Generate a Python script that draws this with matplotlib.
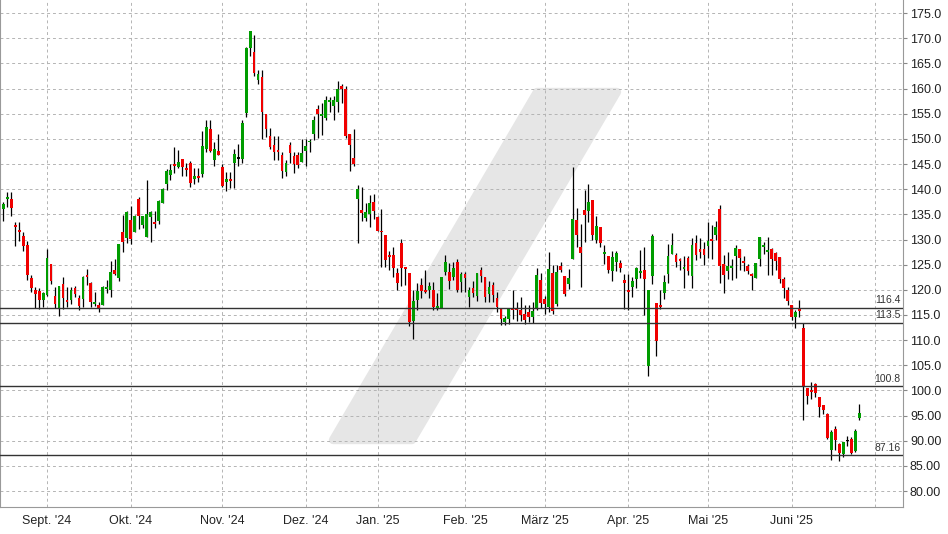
import numpy as np
import pandas as pd
import matplotlib
matplotlib.use('Agg')
import matplotlib.pyplot as plt
from matplotlib.patches import Polygon

# trading days (Xetra), Aug 16 2024 .. Jun 25 2025
holidays = ['2024-12-24', '2024-12-25', '2024-12-26', '2024-12-31',
            '2025-01-01', '2025-04-18', '2025-04-21', '2025-05-01']
days = pd.bdate_range('2024-08-16', '2025-07-01')
days = days[~days.isin(pd.to_datetime(holidays))]

opens = [136.1, 138.1, 138.1, 132.9, 131.9, 130.7, 128.9, 122.3, 119.9, 119.7,
         118.0, 119.0, 125.1, 118.8, 116.3, 121.2, 117.9, 117.9, 120.4, 118.4,
         118.1, 122.9, 121.4, 117.1, 116.9, 117.0, 120.1, 119.9, 123.9, 122.3,
         131.4, 130.3, 133.9, 131.5, 138.1, 132.9, 130.5, 134.5, 133.5, 133.6,
         137.2, 141.1, 142.9, 145.0, 144.5, 146.0, 144.3, 145.2, 142.1, 142.7,
         143.0, 148.0, 152.0, 145.8, 147.6, 144.5, 141.5, 142.1, 145.3, 146.2,
         146.0, 155.1, 168.0, 167.2, 161.7, 162.3, 155.0, 150.5, 148.8, 147.8,
         146.8, 143.5, 148.8, 146.6, 146.8, 145.5, 147.5, 149.3, 151.0, 155.9,
         154.6, 154.2, 157.4, 156.6, 157.4, 160.6, 159.9, 150.9, 146.2, 138.0,
         135.8, 134.3, 135.1, 137.4, 134.4, 131.7, 130.9, 126.9, 126.9, 123.3,
         129.4, 124.6, 123.4, 113.9, 118.0, 120.9, 119.9, 119.9, 119.9, 116.3,
         116.3, 123.6, 123.6, 122.6, 125.6, 121.6, 123.1, 118.6, 120.4, 118.8,
         124.0, 122.6, 119.2, 121.0, 118.3, 116.3, 113.6, 114.3, 116.3, 116.3,
         115.9, 115.2, 115.5, 114.6, 116.3, 121.9, 118.1, 116.5, 123.3, 117.2,
         124.7, 122.8, 121.2, 126.1, 133.9, 128.6, 135.9, 135.6, 137.9, 129.9,
         132.4, 127.1, 126.7, 123.8, 125.6, 125.4, 122.0, 119.9, 120.6, 122.1,
         123.3, 124.0, 104.9, 122.8, 117.3, 117.0, 119.4, 123.1, 127.1, 126.9,
         126.1, 124.2, 126.4, 122.8, 129.4, 128.1, 128.1, 128.7, 130.1, 130.9,
         136.0, 125.2, 123.8, 124.4, 126.7, 128.2, 125.7, 124.7, 123.2, 122.3,
         126.2, 128.5, 127.5, 128.2, 127.3, 126.6, 122.1, 120.0, 117.0, 114.6,
         116.2, 112.5, 100.5, 100.0, 101.3, 98.8, 97.2, 95.4, 88.2, 92.3,
         89.3, 87.4, 90.0, 90.4, 87.9, 94.6]
highs = [137.5, 139.4, 139.4, 133.5, 133.5, 131.5, 129.7, 122.9, 120.5, 120.4,
         119.5, 128.1, 125.1, 120.5, 120.8, 122.5, 120.5, 120.5, 120.7, 118.9,
         122.7, 124.1, 121.5, 119.5, 117.5, 120.7, 121.9, 125.7, 126.2, 129.1,
         134.9, 135.7, 136.7, 134.9, 138.5, 134.7, 141.9, 135.7, 135.7, 137.9,
         140.3, 144.0, 145.0, 148.3, 147.8, 146.0, 145.2, 145.7, 144.2, 144.2,
         151.6, 153.8, 153.8, 149.3, 150.9, 145.0, 143.4, 143.4, 148.0, 149.0,
         153.8, 168.3, 171.5, 170.7, 163.6, 163.6, 155.0, 152.1, 150.6, 150.5,
         147.3, 145.9, 149.3, 147.3, 147.3, 150.0, 150.0, 150.0, 154.6, 156.7,
         157.2, 158.5, 158.4, 158.5, 161.5, 160.9, 160.6, 150.9, 151.9, 140.9,
         140.5, 137.3, 138.8, 139.0, 134.6, 136.0, 130.9, 127.7, 128.6, 124.4,
         130.2, 124.6, 123.4, 120.0, 121.3, 122.3, 123.9, 121.6, 121.6, 119.3,
         122.6, 126.9, 125.3, 125.6, 126.1, 123.6, 123.6, 120.5, 121.8, 123.4,
         124.6, 122.6, 121.8, 121.6, 119.6, 116.3, 114.8, 116.3, 119.9, 117.6,
         118.6, 117.0, 117.0, 117.6, 124.3, 123.3, 118.8, 127.5, 124.9, 124.9,
         125.6, 122.8, 124.1, 144.5, 136.2, 133.0, 139.9, 141.0, 137.9, 134.6,
         132.4, 129.0, 126.7, 127.7, 127.7, 125.9, 123.1, 123.2, 122.5, 124.6,
         127.9, 128.6, 119.9, 131.0, 117.3, 120.0, 122.9, 129.1, 131.3, 127.4,
         126.4, 126.7, 126.7, 130.3, 130.8, 130.3, 129.5, 133.5, 132.9, 133.7,
         136.8, 127.0, 127.6, 126.1, 129.0, 128.2, 126.7, 125.1, 123.4, 125.4,
         130.5, 129.5, 130.5, 128.3, 127.6, 126.6, 122.6, 120.6, 117.0, 116.0,
         117.9, 113.4, 100.5, 101.6, 101.4, 98.8, 97.2, 95.6, 92.2, 92.9,
         89.6, 89.8, 91.0, 90.8, 92.3, 97.4]
lows = [133.7, 136.5, 134.7, 128.7, 129.7, 127.7, 122.0, 119.5, 116.4, 116.2,
        116.5, 118.8, 121.2, 116.4, 114.9, 116.2, 116.5, 117.2, 118.5, 115.9,
        116.5, 120.9, 116.5, 116.7, 115.5, 117.0, 119.3, 118.5, 122.9, 121.7,
        127.5, 129.3, 129.2, 131.4, 132.0, 132.2, 130.5, 129.5, 132.2, 133.1,
        137.2, 139.9, 141.9, 143.3, 144.2, 142.6, 142.6, 140.5, 141.0, 141.5,
        142.4, 147.4, 147.4, 144.7, 146.7, 140.5, 139.7, 140.2, 140.2, 144.7,
        145.3, 154.4, 166.4, 162.4, 161.0, 149.9, 150.3, 148.0, 145.9, 145.9,
        142.3, 142.7, 145.3, 143.3, 144.3, 145.5, 144.7, 147.4, 149.7, 150.1,
        150.8, 153.8, 155.4, 153.8, 155.4, 157.2, 150.1, 143.7, 144.7, 129.4,
        133.6, 133.6, 132.4, 134.1, 131.7, 124.6, 124.6, 124.0, 122.6, 120.0,
        120.8, 120.9, 112.9, 110.3, 115.9, 118.3, 119.3, 118.3, 115.9, 116.0,
        116.3, 122.9, 120.1, 121.9, 119.6, 119.6, 119.6, 116.6, 118.6, 117.8,
        121.6, 117.6, 117.6, 117.6, 115.5, 113.0, 113.0, 113.3, 114.3, 113.9,
        113.9, 113.3, 113.6, 113.5, 116.0, 116.3, 115.2, 115.5, 115.2, 116.7,
        123.6, 118.7, 120.2, 126.1, 128.6, 120.5, 129.6, 133.5, 130.0, 129.3,
        128.6, 125.1, 123.4, 121.8, 123.8, 123.6, 116.1, 116.0, 118.5, 120.3,
        122.3, 115.0, 102.9, 121.1, 106.9, 116.1, 118.2, 121.3, 127.1, 124.6,
        123.9, 120.4, 122.9, 120.4, 125.9, 126.4, 125.0, 126.3, 126.2, 129.9,
        121.4, 119.4, 122.1, 121.9, 122.4, 124.0, 123.7, 123.1, 120.0, 122.3,
        124.8, 127.2, 123.0, 123.0, 124.0, 121.4, 118.4, 117.0, 114.1, 112.4,
        114.7, 94.2, 97.4, 98.4, 98.8, 94.8, 95.4, 90.3, 86.2, 88.2,
        86.0, 86.8, 89.0, 87.3, 87.7, 94.2]
closes = [137.1, 138.5, 136.3, 132.5, 131.5, 128.7, 122.9, 120.3, 119.2, 118.0,
          119.3, 126.3, 121.7, 117.1, 120.8, 118.4, 117.5, 119.9, 119.1, 116.7,
          122.5, 122.5, 117.5, 117.5, 116.3, 120.5, 120.5, 123.5, 123.1, 129.1,
          129.5, 135.5, 130.1, 134.7, 134.7, 134.7, 135.1, 135.5, 133.1, 137.7,
          140.1, 143.7, 143.8, 144.6, 145.5, 144.4, 143.8, 141.2, 142.6, 142.3,
          148.5, 152.3, 147.5, 148.0, 146.7, 140.7, 142.1, 141.7, 147.0, 146.2,
          153.2, 168.0, 171.5, 163.0, 162.9, 155.4, 152.0, 148.3, 147.3, 147.4,
          143.6, 145.2, 147.2, 145.0, 144.8, 147.2, 148.5, 149.6, 153.8, 155.0,
          155.0, 157.8, 157.7, 157.7, 159.9, 160.0, 150.6, 148.8, 145.0, 140.0,
          135.3, 135.5, 137.3, 135.7, 131.7, 131.4, 125.9, 126.6, 124.3, 121.3,
          124.4, 124.2, 113.6, 117.8, 119.8, 119.7, 119.6, 120.8, 116.6, 116.7,
          122.6, 125.6, 121.8, 124.4, 119.9, 123.1, 122.3, 119.9, 119.4, 123.3,
          122.8, 118.5, 120.6, 119.0, 116.6, 114.2, 114.5, 116.3, 116.0, 115.9,
          115.0, 114.1, 114.7, 115.7, 122.9, 117.3, 117.1, 124.1, 115.8, 123.5,
          123.9, 119.2, 122.3, 134.1, 130.9, 127.4, 134.9, 137.4, 130.9, 132.7,
          129.3, 127.5, 123.9, 126.5, 127.3, 124.3, 121.3, 119.6, 121.8, 124.4,
          123.7, 122.1, 119.9, 130.6, 109.8, 116.5, 121.6, 126.7, 128.9, 125.6,
          125.8, 124.6, 123.8, 128.9, 126.9, 127.5, 126.9, 129.8, 129.7, 132.5,
          124.8, 123.0, 124.7, 124.7, 128.3, 126.3, 125.4, 123.7, 122.7, 125.4,
          130.5, 128.9, 127.9, 126.2, 125.8, 122.1, 120.4, 117.7, 114.7, 115.5,
          115.7, 100.8, 99.0, 99.7, 99.4, 96.8, 96.2, 90.6, 91.7, 90.1,
          87.6, 89.8, 90.0, 87.5, 91.9, 95.6]

month_labels = ["Sept. '24", "Okt. '24", "Nov. '24", "Dez. '24", "Jan. '25",
                "Feb. '25", "März '25", "Apr. '25", "Mai '25", "Juni '25", ""]

levels = [116.4, 113.5, 100.8, 87.16]
level_labels = ['116.4', '113.5', '100.8', '87.16']

plt.rcParams['font.family'] = ['Liberation Sans', 'DejaVu Sans']

o = np.array(opens)
h = np.array(highs)
l = np.array(lows)
c = np.array(closes)
x = np.arange(len(o))

# first trading day of each month
month_pos = [i for i in range(1, len(days)) if days[i].month != days[i - 1].month]

fig = plt.figure(figsize=(9.48, 5.34), dpi=100)
ax = fig.add_axes([0.0, 0.0511, 0.9525, 0.9489])

# watermark slash
wm = Polygon([(333 / 948, 1 - 440 / 534), (412 / 948, 1 - 440 / 534),
              (617 / 948, 1 - 92 / 534), (537 / 948, 1 - 92 / 534)],
             closed=True, transform=fig.transFigure, facecolor='#e6e6e6',
             edgecolor='#e6e6e6', linewidth=6, joinstyle='round', zorder=0.1)
ax.add_patch(wm)

up = c > o
down = c < o
flat = c == o
body_lo = np.minimum(o, c)
body_h = np.maximum(np.abs(c - o), 0.25)

ax.vlines(x, l, h, color='black', linewidth=0.9, zorder=2)
ax.bar(x[up], body_h[up], bottom=body_lo[up], width=0.7, color='#009c00', zorder=3)
ax.bar(x[down], body_h[down], bottom=body_lo[down], width=0.7, color='#f00000', zorder=3)
ax.bar(x[flat], body_h[flat], bottom=body_lo[flat] - 0.12, width=0.7, color='black', zorder=3)

for lv, lab in zip(levels, level_labels):
    ax.axhline(lv, color='#333333', linewidth=1.0, zorder=4)
    ax.text(225.3, lv + 0.5, lab, ha='right', va='bottom', fontsize=7.5,
            color='#333333', zorder=5)

ax.set_xlim(-0.83, 226.0)
ax.set_ylim(76.9, 177.6)

ax.set_xticks(month_pos)
ax.set_xticklabels(month_labels, fontsize=9, color='#222222')
ax.tick_params(axis='x', length=0, pad=6)

yt = np.arange(80, 176, 5)
ax.yaxis.tick_right()
ax.set_yticks(yt)
ax.set_yticklabels([f'{v:.1f}' if v >= 100 else f'{v:.2f}' for v in yt],
                   fontsize=9, color='#222222')
ax.tick_params(axis='y', length=3, color='#888888', pad=2)

ax.grid(True, color='#b4b4b4', linestyle=(0, (3, 3)), linewidth=0.7)
ax.set_axisbelow(True)

for s in ['left', 'right', 'bottom']:
    ax.spines[s].set_color('#999999')
ax.spines['top'].set_visible(False)

fig.savefig('out.png', dpi=100)
